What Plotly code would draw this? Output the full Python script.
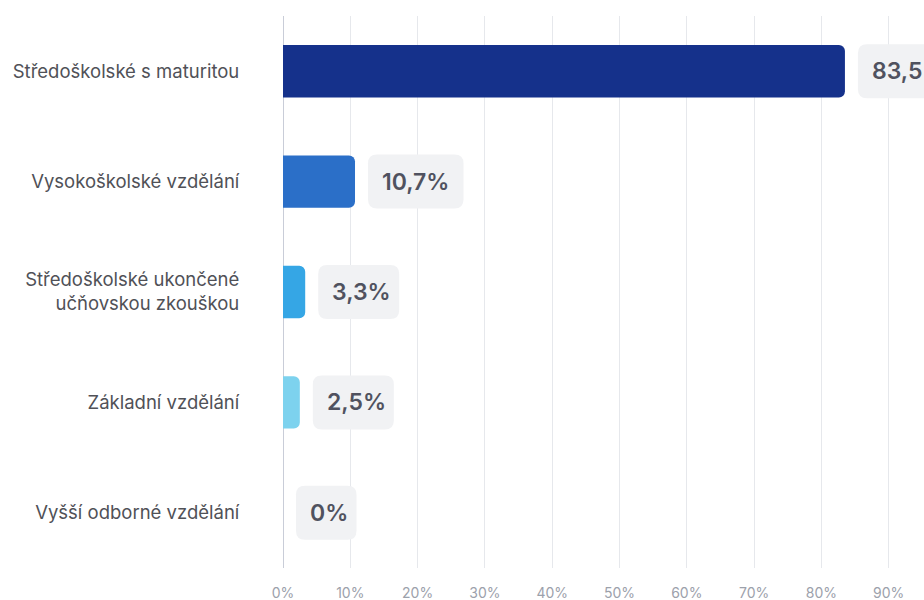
import plotly.graph_objects as go

# Education level distribution (share of respondents, %)
categories = [
    "Středoškolské s maturitou",
    "Vysokoškolské vzdělání",
    "Středoškolské ukončené<br>učňovskou zkouškou",
    "Základní vzdělání",
    "Vyšší odborné vzdělání",
]
values = [83.5, 10.7, 3.3, 2.5, 0.0]
bar_colors = ["#15318b", "#2b6fc8", "#35a6e5", "#7dd2ee", "#9adff2"]
x_ticks = [0, 10, 20, 30, 40, 50, 60, 70, 80, 90]


def fmt_pct(v):
    if float(v).is_integer():
        return f"{int(v)}%"
    return f"{v:.1f}".replace(".", ",") + "%"


def text_width(s):
    widths = {",": 6.0, "%": 20.0}
    return sum(widths.get(ch, 14.5) for ch in s)


def rounded_rect(x0, y0, x1, y1, r):
    return (
        f"M{x0 + r},{y0} L{x1 - r},{y0} Q{x1},{y0} {x1},{y0 + r} "
        f"L{x1},{y1 - r} Q{x1},{y1} {x1 - r},{y1} L{x0 + r},{y1} "
        f"Q{x0},{y1} {x0},{y1 - r} L{x0},{y0 + r} Q{x0},{y0} {x0 + r},{y0} Z"
    )


fig = go.Figure()
fig.add_trace(
    go.Bar(
        x=values,
        y=categories,
        orientation="h",
        marker=dict(color=bar_colors, cornerradius=6, line=dict(width=0)),
        width=0.475,
        hoverinfo="skip",
    )
)

# Value badges: rounded grey box with the percentage, placed right of each bar
gap, pad, half_h = 13, 13, 27
for cat, v in zip(categories, values):
    label = fmt_pct(v)
    w = text_width(label) + 2 * pad
    fig.add_shape(
        type="path",
        xsizemode="pixel",
        ysizemode="pixel",
        xanchor=v,
        yanchor=cat,
        xref="x",
        yref="y",
        path=rounded_rect(gap, -half_h, gap + w, half_h, 9),
        fillcolor="#f1f2f4",
        line=dict(width=0),
        layer="above",
    )
    fig.add_annotation(
        x=v,
        y=cat,
        xref="x",
        yref="y",
        text=label,
        showarrow=False,
        xanchor="left",
        yanchor="middle",
        xshift=gap + pad - 1,
        font=dict(family="Inter", size=23, color="#50525f", weight=600),
    )

fig.update_layout(
    width=924,
    height=600,
    margin=dict(l=283, r=0, t=16, b=32),
    paper_bgcolor="white",
    plot_bgcolor="white",
    showlegend=False,
    bargap=0.5,
    font=dict(family="Inter"),
    xaxis=dict(
        range=[0, 95.25],
        tickvals=x_ticks,
        ticktext=[f"{t}%" for t in x_ticks],
        showgrid=True,
        gridcolor="#e6e8ec",
        gridwidth=1,
        zeroline=True,
        zerolinecolor="#c9cdd8",
        zerolinewidth=1,
        showline=False,
        ticks="outside",
        ticklen=12,
        tickcolor="rgba(0,0,0,0)",
        tickfont=dict(family="Inter", size=14, color="#9ca1ab"),
        fixedrange=True,
    ),
    yaxis=dict(
        categoryorder="array",
        categoryarray=categories[::-1],
        showgrid=False,
        zeroline=False,
        showline=False,
        ticks="outside",
        ticklen=39,
        tickcolor="rgba(0,0,0,0)",
        tickfont=dict(family="Inter", size=18.5, color="#505157"),
        automargin=False,
        fixedrange=True,
    ),
)

fig.write_html("out.html")
